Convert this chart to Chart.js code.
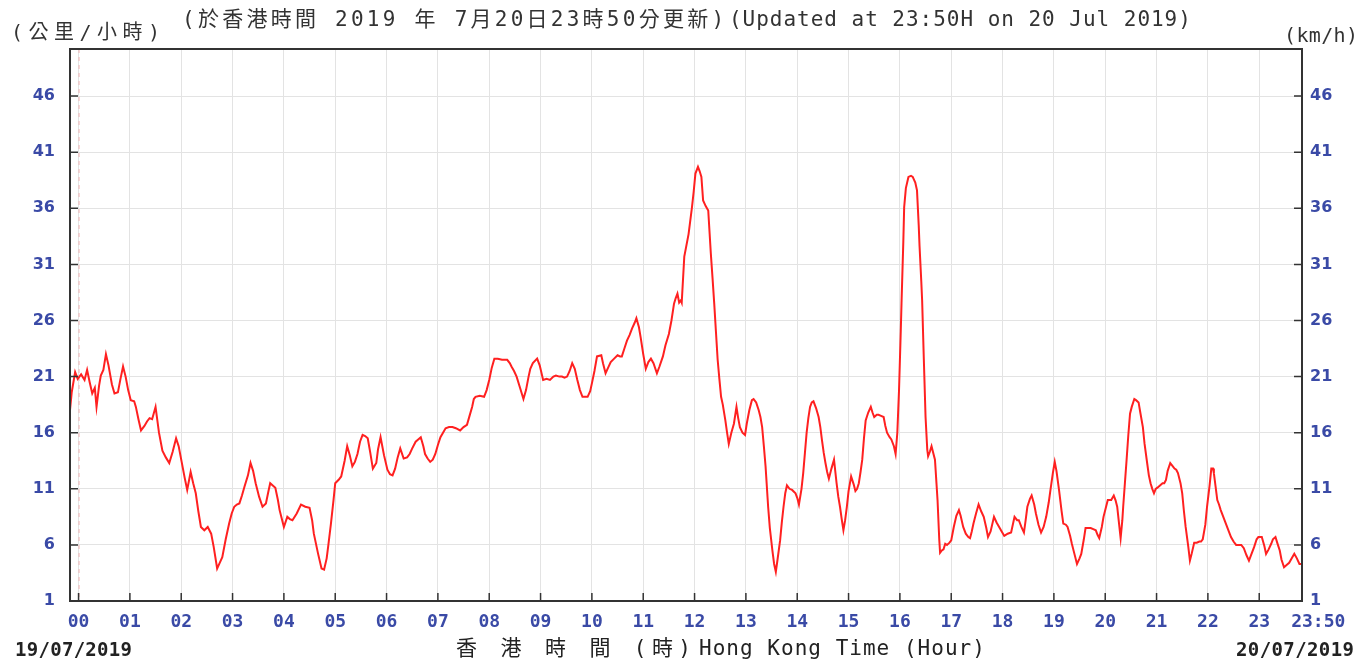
<!DOCTYPE html>
<html>
<head>
<meta charset="utf-8">
<script src="https://cdn.jsdelivr.net/npm/chart.js@4.4.1/dist/chart.umd.min.js"></script>
<style>
html,body{margin:0;padding:0;background:#fff;}
#wrap{width:1364px;height:665px;}
</style>
</head>
<body>
<div id="wrap"><canvas id="c" width="1364" height="665"></canvas></div>
<script>
// ---- data (minutes from 00:00 on 20/07/2019, wind speed km/h) ----
const minutes = [
-10,-8,-4,-1,3,7,10,13,16,19,21,24,26,29,32,35,39,42,46,49,52,55,58,61,65,67,70,73,77,80,83,86,90,94,98,102,106,110,114,117,120,124,127,131,134,137,140,143,147,151,155,158,162,165,168,172,176,179,182,185,188,191,194,198,201,204,207,211,215,219,222,224,227,230,233,235,238,240,244,247,250,255,260,265,270,273,275,280,284,287,290,292,295,298,300,304,307,311,314,317,320,323,326,329,332,335,338,341,344,348,
350,353,357,361,364,367,370,373,376,380,384,387,390,394,397,400,403,405,408,411,414,417,420,423,426,429,433,437,441,446,450,454,457,460,462,464,469,474,477,480,483,486,490,495,501,504,506,509,512,516,520,523,526,528,531,536,539,543,547,551,555,558,562,565,568,571,574,577,580,583,586,589,592,595,598,600,603,606,611,613,616,619,622,626,630,633,635,638,641,644,647,650,652,655,657,660,663,666,669,672,676,679,683,686,690,693,696,698,700,702,704,
705,708,713,717,719,721,724,726,728,730,733,736,739,741,743,745,747,749,751,753,756,758,760,763,766,769,771,773,776,779,781,784,787,789,792,795,797,799,801,803,806,808,811,813,815,817,820,822,824,826,828,831,834,838,840,842,845,847,849,851,853,855,857,859,862,865,867,869,871,873,875,877,880,883,886,888,890,892,894,896,898,900,903,906,908,910,912,914,916,918,920,923,926,928,930,933,935,938,941,943,945,948,950,953,955,957,959,961,962,964,965,967,970,973,975,978,980,982,983,985,986,988,990,992,993,995,997,999,1001,1003,1004,1006,1007,1009,1011,1013,1015,1018,1020,1023,1026,1029,1031,1034,1037,1040,1042,1044,1046,1049,1052,1055,1058,1061,1063,
1066,1070,1073,1076,1079,1082,1086,1090,1094,1097,1099,1102,1105,1107,1109,1112,1114,1117,1119,1122,1125,1128,1131,1134,1136,1139,1141,1143,1146,1149,1151,1154,1156,1159,1161,1164,1167,1170,1172,1175,1177,1180,1183,1186,1189,1191,1193,1196,1198,1201,1203,1207,1210,1212,1214,1216,1218,1220,1221,1223,1225,1227,1229,1231,1234,1236,1239,1241,1244,1246,1249,1251,1253,1255,1257,1259,1261,1264,1267,1269,1271,1273,1276,1279,1281,1283,1285,1288,1290,1292,1294,1297,1299,1301,1304,1307,1310,1312,1314,1317,1319,1322,1324,1326,1327,1329,1331,1333,1335,1338,1341,1344,1347,1350,1353,1356,1359,1362,1365,1368,1371,1374,1377,1379,1381,1383,1386,1388,1391,1394,1396,1399,1401,1404,1406,1409,1412,1415,1418,1421,1424,1427,1430
];
const windSpeed = [
18.0,19.6,21.4,20.8,21.2,20.7,21.6,20.5,19.5,20.0,18.3,20.2,21.1,21.6,23.0,22.0,20.3,19.5,19.6,20.8,21.9,21.0,19.8,18.9,18.8,18.3,17.2,16.2,16.6,17.0,17.3,17.2,18.3,16.0,14.4,13.8,13.3,14.3,15.5,14.8,13.6,12.0,10.9,12.5,11.5,10.6,9.0,7.6,7.3,7.6,7.0,5.8,3.9,4.4,4.9,6.5,7.9,8.8,9.4,9.6,9.7,10.4,11.2,12.2,13.3,12.6,11.5,10.3,9.4,9.7,10.8,11.5,11.3,11.1,10.0,9.1,8.2,7.6,8.5,8.3,8.2,8.8,9.6,9.4,9.3,8.2,7.0,5.2,3.9,3.8,4.8,6.0,7.9,10.0,11.5,11.8,12.1,13.5,14.8,14.0,13.0,13.4,14.1,15.2,15.8,15.7,15.5,14.2,12.8,13.3,
14.5,15.6,14.0,12.7,12.3,12.2,12.8,13.8,14.6,13.7,13.8,14.1,14.6,15.2,15.4,15.6,14.8,14.1,13.7,13.4,13.6,14.1,14.9,15.6,16.0,16.4,16.5,16.5,16.4,16.2,16.5,16.7,17.5,18.3,19.0,19.2,19.3,19.2,19.8,20.7,21.8,22.6,22.6,22.5,22.5,22.2,21.9,21.5,21.0,20.0,19.0,19.8,21.0,21.7,22.2,22.6,22.0,20.7,20.8,20.7,21.0,21.1,21.0,21.0,20.9,21.0,21.5,22.2,21.7,20.7,19.8,19.2,19.2,19.2,19.7,20.4,21.5,22.8,22.9,22.2,21.3,21.8,22.3,22.6,22.9,22.8,22.8,23.5,24.2,24.7,25.3,25.8,26.2,25.4,24.5,23.0,21.7,22.3,22.6,22.2,21.3,21.9,22.8,23.8,24.8,26.0,27.5,28.0,28.4,27.6,27.8,
27.6,31.7,33.7,36.1,37.5,39.1,39.7,39.3,38.8,36.7,36.2,35.8,32.0,29.8,27.5,25.0,22.5,20.8,19.2,18.5,17.1,16.0,15.0,16.0,16.8,18.3,17.3,16.5,16.0,15.8,16.8,18.0,18.9,19.0,18.7,18.0,17.4,16.5,14.8,13.0,9.4,7.5,5.5,4.3,3.6,4.7,6.4,8.0,9.4,10.6,11.3,11.0,10.9,10.6,10.2,9.6,11.0,12.4,14.2,16.0,17.3,18.3,18.7,18.8,18.2,17.4,16.5,15.3,14.2,13.3,12.5,11.9,12.8,13.6,11.5,10.3,9.4,8.3,7.3,8.2,9.4,10.8,12.1,11.4,10.8,11.0,11.5,12.5,13.6,15.5,17.1,17.8,18.3,17.8,17.4,17.6,17.6,17.5,17.4,16.6,16.0,15.6,15.4,14.8,14.1,16.0,19.8,25.0,27.8,33.0,36.1,37.8,38.8,38.9,38.8,38.3,37.6,34.5,32.6,29.5,27.8,22.5,17.4,14.5,13.9,14.3,14.8,14.2,13.6,11.2,10.0,6.5,5.3,5.5,5.6,6.1,6.0,6.2,6.4,7.6,8.6,9.1,8.6,7.6,7.0,6.7,6.6,7.2,7.9,8.8,9.6,9.0,8.5,7.5,6.7,
7.2,8.5,8.0,7.6,7.2,6.8,7.0,7.1,8.5,8.2,8.2,7.6,7.1,8.2,9.4,10.1,10.4,9.6,8.8,7.8,7.1,7.6,8.5,9.8,10.9,12.5,13.4,12.6,10.9,9.0,7.9,7.8,7.6,6.8,6.1,5.2,4.3,4.8,5.2,6.5,7.5,7.5,7.5,7.4,7.3,6.9,6.6,7.6,8.5,9.4,10.0,10.0,10.4,10.0,9.4,8.0,6.6,8.2,9.4,11.5,13.6,15.8,17.7,18.3,19.0,18.9,18.7,17.8,16.5,15.0,13.3,12.2,11.5,11.0,10.6,11.0,11.1,11.3,11.5,11.5,11.8,12.6,13.3,13.0,12.8,12.7,12.4,11.5,10.6,9.0,7.6,5.9,4.6,5.2,6.2,6.2,6.3,6.3,6.5,7.8,9.4,11.3,12.8,12.8,12.4,11.2,10.0,9.6,9.1,8.5,7.9,7.3,6.7,6.3,6.0,6.0,6.0,5.7,5.1,4.6,5.2,5.8,6.5,6.7,6.7,6.7,5.9,5.2,5.6,6.1,6.5,6.7,6.2,5.5,4.7,4.0,4.2,4.4,4.8,5.2,4.8,4.3,4.3
];
const xTickValues = [0,60,120,180,240,300,360,420,480,540,600,660,720,780,840,900,960,1020,1080,1140,1200,1260,1320,1380,1430];
const xTickLabels = ['00','01','02','03','04','05','06','07','08','09','10','11','12','13','14','15','16','17','18','19','20','21','22','23','23:50'];
const yTickValues = [1,6,11,16,21,26,31,36,41,46];
const dayBoundary = 0;
const xMin = -10, xMax = 1430, yMin = 1, yMax = 50.2;

const titleCN = '(於香港時間 2019 年 7月20日23時50分更新)';
const titleEN = '(Updated at 23:50H on 20 Jul 2019)';
const unitCN = '(公里/小時)';
const unitEN = '(km/h)';
const axisCN = '香 港 時 間 (時)';
const axisEN = 'Hong Kong Time (Hour)';
const dateStart = '19/07/2019';
const dateEnd = '20/07/2019';

const blue = '#3a4aa6';
const gridCol = '#e3e3e3';
const frameCol = '#333333';

function fitText(ctx, text, x0, x1, yc, font, color){
  ctx.save();
  ctx.font = font; ctx.fillStyle = color;
  ctx.textBaseline = 'middle'; ctx.textAlign = 'left';
  try { ctx.letterSpacing = '0px'; } catch(e){}
  const w = ctx.measureText(text).width;
  const n = Array.from(text).length;
  const ls = n > 1 ? (x1 - x0 - w) / (n - 1) : 0;
  try { ctx.letterSpacing = ls.toFixed(2) + 'px'; } catch(e){}
  ctx.fillText(text, x0, yc);
  ctx.restore();
}

const decor = {
  id: 'decor',
  beforeDatasetsDraw(chart){
    const {ctx, chartArea:a, scales} = chart;
    const px = scales.x.getPixelForValue(dayBoundary);
    ctx.save();
    ctx.strokeStyle = '#f2b6b6'; ctx.lineWidth = 1; ctx.setLineDash([4,4]);
    ctx.beginPath(); ctx.moveTo(px + 0.5, a.top); ctx.lineTo(px + 0.5, a.bottom); ctx.stroke();
    ctx.restore();
  },
  afterDatasetsDraw(chart){
    const {ctx, chartArea:a, scales} = chart;
    ctx.save();
    ctx.strokeStyle = frameCol; ctx.lineWidth = 2;
    ctx.strokeRect(a.left, a.top, a.right - a.left, a.bottom - a.top);
    ctx.lineWidth = 1.5;
    ctx.beginPath();
    xTickValues.slice(0, -1).forEach(v => {
      const px = scales.x.getPixelForValue(v);
      ctx.moveTo(px, a.bottom); ctx.lineTo(px, a.bottom - 8);
    });
    yTickValues.slice(1).forEach(v => {
      const py = scales.y.getPixelForValue(v);
      ctx.moveTo(a.left, py); ctx.lineTo(a.left + 8, py);
      ctx.moveTo(a.right, py); ctx.lineTo(a.right - 8, py);
    });
    ctx.stroke();
    ctx.restore();
  },
  afterDraw(chart){
    const ctx = chart.ctx;
    const mono = "'DejaVu Sans Mono','Noto Sans CJK TC'";
    fitText(ctx, titleCN, 182, 724, 21, "21px " + mono, '#333');
    fitText(ctx, titleEN, 729, 1191, 21, "21px " + mono, '#333');
    fitText(ctx, unitCN, 11, 160, 34, "20px " + mono, '#333');
    fitText(ctx, unitEN, 1284, 1358, 37, "20px " + mono, '#333');
    fitText(ctx, axisCN, 456, 691, 650, "21px " + mono, '#222');
    fitText(ctx, axisEN, 699, 985, 650, "21px " + mono, '#222');
    fitText(ctx, dateStart, 15, 132, 651, "bold 19px 'DejaVu Sans Mono'", '#222');
    fitText(ctx, dateEnd, 1236, 1354, 651, "bold 19px 'DejaVu Sans Mono'", '#222');
  }
};

const points = minutes.map((t, i) => ({x: t, y: windSpeed[i]}));

new Chart(document.getElementById('c'), {
  type: 'line',
  data: { datasets: [{
    data: points,
    borderColor: '#ff2020',
    borderWidth: 2,
    pointRadius: 0,
    tension: 0,
    fill: false
  }]},
  options: {
    responsive: false,
    devicePixelRatio: 1,
    animation: false,
    layout: { padding: { top: 49, left: 0, right: 0, bottom: 0 } },
    plugins: { legend: { display: false }, tooltip: { enabled: false }, title: { display: false } },
    scales: {
      x: {
        type: 'linear', position: 'bottom', min: xMin, max: xMax,
        afterBuildTicks: s => { s.ticks = xTickValues.map(v => ({value: v})); },
        afterFit: s => { s.height = 64; },
        border: { display: false },
        grid: { color: gridCol, lineWidth: 1, drawTicks: false },
        ticks: {
          autoSkip: false, maxRotation: 0, minRotation: 0, padding: 11,
          color: blue,
          font: { family: 'DejaVu Sans Mono', weight: 'bold', size: 18 },
          callback: (v, i) => (i === xTickLabels.length - 1 ? '   ' : '') + xTickLabels[i]
        }
      },
      y: {
        type: 'linear', position: 'left', min: yMin, max: yMax,
        afterBuildTicks: s => { s.ticks = yTickValues.map(v => ({value: v})); },
        afterFit: s => { s.width = 70; },
        border: { display: false },
        grid: { color: gridCol, lineWidth: 1, drawTicks: false },
        ticks: {
          padding: 15, color: blue,
          font: { family: 'DejaVu Sans', weight: 'bold', size: 16 },
          callback: v => String(v)
        }
      },
      y2: {
        type: 'linear', position: 'right', min: yMin, max: yMax,
        afterBuildTicks: s => { s.ticks = yTickValues.map(v => ({value: v})); },
        afterFit: s => { s.width = 62; },
        border: { display: false },
        grid: { display: false, drawTicks: false },
        ticks: {
          padding: 8, color: blue,
          font: { family: 'DejaVu Sans', weight: 'bold', size: 16 },
          callback: v => String(v)
        }
      }
    }
  },
  plugins: [decor]
});
</script>
</body>
</html>
